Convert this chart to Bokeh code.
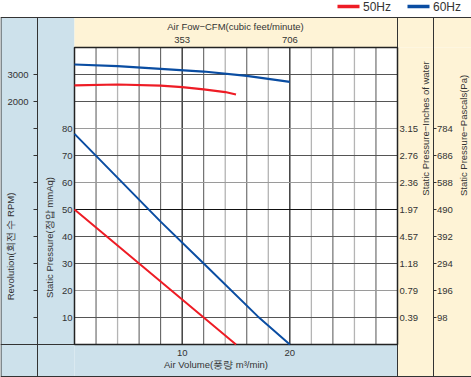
import math
from bokeh.plotting import figure
from bokeh.models import Range1d
from bokeh.core.properties import value
from bokeh.embed import file_html
from bokeh.resources import INLINE

# ---------------- data ----------------
pressure_ticks = [10, 20, 30, 40, 50, 60, 70, 80]          # mmAq
inch_labels = ["0.39", "0.79", "1.18", "4.57", "1.97", "2.36", "2.76", "3.15"]
pascal_labels = ["98", "196", "294", "392", "490", "588", "686", "784"]
rpm_ticks = [2000, 3000]
volume_ticks = [10, 20]                                     # m3/min
cfm_ticks = [353, 706]

airflow_50 = [0, 6, 12, 15]
pressure_50 = [50, 30, 10, 0]
airflow_60 = [0, 8, 12, 17, 20]
pressure_60 = [78, 45.5, 30, 10.5, 0]

rpm_x_50 = [0, 4, 8, 10, 12, 14, 15]
rpm_50 = [2600, 2630, 2590, 2530, 2450, 2350, 2260]
rpm_x_60 = [0, 4, 8, 12, 16, 20]
rpm_60 = [3370, 3310, 3210, 3110, 2950, 2730]

series_names = ["50Hz", "60Hz"]
series_colors = ["#ee1c25", "#0a4da2"]

# ---------------- layout (pixels) ----------------
W, H = 471, 377
PL, PR, PT, PB = 74, 397, 47, 344
XMAX, YMAX = 30, 110
sx = (PR - PL) / XMAX
sy = (PB - PT) / YMAX

def dx(px):
    return (px - PL) / sx

def dy(py):
    return (PB - py) / sy

CFM_PER = 35.3
def rpm_of(y):
    return 2000 + (y - 90) * 100

p = figure(width=W, height=H,
           x_range=Range1d(dx(0), dx(W)), y_range=Range1d(dy(H), dy(0)),
           x_axis_type=None, y_axis_type=None, min_border=0,
           toolbar_location=None, output_backend="svg",
           outline_line_color=None, background_fill_color="white",
           border_fill_color="white")
p.extra_y_ranges = {"rpm": Range1d(rpm_of(dy(H)), rpm_of(dy(0)))}
p.extra_x_ranges = {"cfm": Range1d(dx(0) * CFM_PER, dx(W) * CFM_PER)}

BLUE_BG = "#cde1eb"
BEIGE_BG = "#fef3d6"
LINE = "#333333"
TXT = "#333333"
FONT = value("Liberation Sans")

TOP, BOT = 17, 376
# panels
p.quad(left=[dx(0), dx(PL)], right=[dx(PL), dx(PR)],
       bottom=[dy(BOT), dy(BOT)], top=[dy(TOP), dy(PB)],
       fill_color=BLUE_BG, line_color=None)
p.quad(left=[dx(PL), dx(PR)], right=[dx(W), dx(W)],
       bottom=[dy(PT), dy(BOT)], top=[dy(TOP), dy(PT)],
       fill_color=BEIGE_BG, line_color=None)

# grid lines (inside the plot box only)
vx_dark = [2, 6, 8, 12, 16, 24, 28]
vx_light = [4, 14, 18, 22, 26]
vx_black = [10, 20]
hy_dark = [10, 30, 40, 70, 90, 100]
hy_light = [20, 60, 80]
hy_black = [50]
for ticks, col, w in [(vx_light, "#b4b4b4", 1.3), (vx_dark, "#555555", 1), (vx_black, "#111111", 1.2)]:
    p.segment(x0=ticks, x1=ticks, y0=[0] * len(ticks), y1=[YMAX] * len(ticks),
              line_color=col, line_width=w)
for ticks, col, w in [(hy_light, "#9a9a9a", 1.2), (hy_dark, "#555555", 1), (hy_black, "#111111", 1.2)]:
    p.segment(x0=[0] * len(ticks), x1=[XMAX] * len(ticks), y0=ticks, y1=ticks,
              line_color=col, line_width=w)

# frame lines
p.segment(x0=[dx(0), dx(0), dx(0.5), dx(37), dx(PR), dx(433), dx(0)],
          y0=[dy(TOP), dy(BOT), dy(TOP), dy(TOP), dy(TOP), dy(TOP), dy(PB)],
          x1=[dx(W), dx(W), dx(0.5), dx(37), dx(PR), dx(433), dx(PR)],
          y1=[dy(TOP), dy(BOT), dy(BOT), dy(BOT), dy(BOT), dy(BOT), dy(PB)],
          line_color=LINE, line_width=1)
p.quad(left=0, right=XMAX, bottom=0, top=YMAX, fill_color=None,
       line_color="#222222", line_width=1.5)

# ticks on dividers
tick_y = pressure_ticks + [90, 100]
p.segment(x0=[dx(33)] * len(tick_y), x1=[dx(37)] * len(tick_y), y0=tick_y, y1=tick_y,
          line_color=LINE, line_width=1)
p.segment(x0=[dx(433)] * len(pressure_ticks), x1=[dx(436)] * len(pressure_ticks),
          y0=pressure_ticks, y1=pressure_ticks, line_color=LINE, line_width=1)

# curves
p.line(airflow_50, pressure_50, line_color=series_colors[0], line_width=2)
p.line(airflow_60, pressure_60, line_color=series_colors[1], line_width=2)
p.line(rpm_x_50, rpm_50, y_range_name="rpm", line_color=series_colors[0], line_width=2.2)
p.line(rpm_x_60, rpm_60, y_range_name="rpm", line_color=series_colors[1], line_width=2.2)

ts = "9.5px"
# tick labels
p.text(x=[dx(72)] * len(pressure_ticks), y=pressure_ticks, text=[str(v) for v in pressure_ticks],
       text_align="right", text_baseline="middle", text_font=FONT, text_font_size=ts, text_color=TXT)
p.text(x=[dx(7)] * len(rpm_ticks), y=rpm_ticks, y_range_name="rpm", text=[str(v) for v in rpm_ticks],
       text_align="left", text_baseline="middle", text_font=FONT, text_font_size=ts, text_color=TXT)
p.text(x=[dx(399)] * len(pressure_ticks), y=pressure_ticks, text=inch_labels,
       text_align="left", text_baseline="middle", text_font=FONT, text_font_size=ts, text_color=TXT)
p.text(x=[dx(436.5)] * len(pressure_ticks), y=pressure_ticks, text=pascal_labels,
       text_align="left", text_baseline="middle", text_font=FONT, text_font_size=ts, text_color=TXT)
p.text(x=cfm_ticks, y=[dy(39.5)] * len(cfm_ticks), x_range_name="cfm", text=[str(v) for v in cfm_ticks],
       text_align="center", text_baseline="middle", text_font=FONT, text_font_size=ts, text_color=TXT)
p.text(x=volume_ticks, y=[dy(352.5)] * len(volume_ticks), text=[str(v) for v in volume_ticks],
       text_align="center", text_baseline="middle", text_font=FONT, text_font_size=ts, text_color=TXT)

# axis titles
titles = [
    ("Air Fow−CFM(cubic feet/minute)", 235, 25.5, 0),
    ("Air Volume(풍량 m³/min)", 215.5, 364, 0),
    ("Static Pressure(정압 mmAq)", 49, 237, math.pi / 2),
    ("Revolution(회전 수 RPM)", 10, 246, math.pi / 2),
    ("Static Pressure−Inches of water", 425, 128, math.pi / 2),
    ("Static Pressure−Pascals(Pa)", 462.5, 135, math.pi / 2),
]
for t, px, py, ang in titles:
    p.text(x=[dx(px)], y=[dy(py)], text=[t], angle=ang, text_align="center",
           text_baseline="middle", text_font=FONT, text_font_size="9.5px", text_color=TXT)

# legend
leg_x = [337, 407]
for name, col, lx in zip(series_names, series_colors, leg_x):
    p.segment(x0=[dx(lx)], x1=[dx(lx + 22)], y0=[dy(6)], y1=[dy(6)], line_color=col, line_width=3.5)
    p.text(x=[dx(lx + 25.5)], y=[dy(6.5)], text=[name], text_align="left", text_baseline="middle",
           text_font=FONT, text_font_size="12px", text_color=TXT)

open("out.html", "w").write(file_html(p, INLINE))
